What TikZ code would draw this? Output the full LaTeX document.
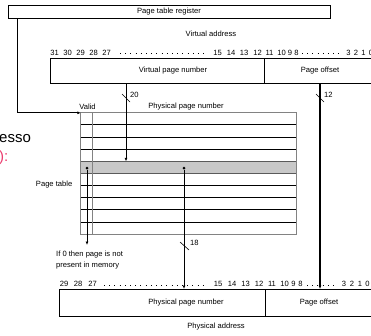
\documentclass[tikz,border=0pt]{standalone}
\usepackage{fontspec}
\setmainfont{Liberation Sans}
\usetikzlibrary{arrows.meta}
\definecolor{pinkred}{RGB}{235,60,110}
\definecolor{rowgray}{RGB}{200,200,200}
\definecolor{edgegray}{RGB}{130,130,130}
\definecolor{darkedge}{RGB}{90,90,90}
\begin{document}
\begin{tikzpicture}[x=1pt,y=-1pt,
  lbl/.style={font=\fontsize{7.6}{9}\selectfont, inner sep=0pt},
  box/.style={draw, line width=0.8pt, inner sep=0pt},
  rowbox/.style={inner sep=0pt, minimum width=215pt, minimum height=12.13pt},
  arr/.style={-{Latex[length=3.5pt,width=3pt]}, line width=0.9pt},
  wire/.style={line width=0.9pt},
  hashmark/.style={line width=0.6pt},
  bitdots/.style={line width=0.9pt, dash pattern=on 0.9pt off 4.3pt},
  dotmark/.style={fill=black, circle, inner sep=0pt, minimum size=3pt}]
\useasboundingbox (0,0) rectangle (371,335);

% page table register
\node[box, minimum width=322pt, minimum height=13pt] (ptr) at (169,11.5) {};
\node[lbl] (ptrt) at (169,12) {Page table register};

% virtual address
\node[lbl] (vat) at (211,34) {Virtual address};
\foreach \x/\t [count=\i] in {54.5/31,67.5/30,80.5/29,93.5/28,106.5/27,217.5/15,231/14,244/13,257.5/12,269.5/11,281.5/10,290/9,296.5/8,348.5/3,356/2,363.5/1,371/0}
  \node[lbl] (vb\i) at (\x,52.5) {\t};
\draw[bitdots] (120,53) -- (205,53);
\draw[bitdots] (302,53) -- (342,53);
\node[box, minimum width=214pt, minimum height=25pt] (vpn) at (157,70.5) {};
\node[box, minimum width=120pt, minimum height=25pt] (voff) at (324,70.5) {};
\node[lbl] (vpnt) at (173,71) {Virtual page number};
\node[lbl] (vofft) at (320,71) {Page offset};

% page table
\foreach \i in {0,...,9}
  \node[rowbox] (r\i) at (188.5,{113+12.13*\i+6.065}) {};
\foreach \i in {1,2,3,6,7,8,9}
  \draw[wire] (r\i.north west) -- (r\i.north east);
\node[rowbox, fill=rowgray] (sel) at (r4) {};
\draw[line width=1pt, darkedge] (sel.north west) -- (sel.north east);
\draw[line width=1pt, darkedge] (sel.south west) -- (sel.south east);
\draw[edgegray, line width=0.8pt] (r0.north west) rectangle (r9.south east);
\draw[edgegray, line width=0.8pt] (r0.north west) ++(12,0) coordinate (vc) -- (vc |- r9.south);
\node[lbl] (validt) at (87.5,107) {Valid};
\node[lbl] (ppnt) at (186,107) {Physical page number};
\node[lbl, anchor=east] (ptt) at (72.5,185) {Page table};

% register to table
\coordinate (regdown) at (17,18);
\draw[arr] (regdown) |- (r0.north west);

% VPN to table
\coordinate (vpnsrc) at (126,83);
\draw[arr] (vpnsrc) -- (vpnsrc |- sel.north);
\draw[hashmark] (122,94) -- (130,102);
\node[lbl, anchor=west] (n20) at (130,95) {20};

% page offset straight through
\coordinate (offsrc) at (320,83);
\coordinate (offdst) at (320,289);
\draw[-{Latex[length=3.5pt,width=3pt]}, line width=1.6pt] (offsrc) -- (offdst);
\draw[hashmark] (316,94) -- (324,102);
\node[lbl, anchor=west] (n12) at (324,95) {12};

% valid bit
\node[dotmark] (vd) at (87,168) {};
\coordinate (vend) at (87,245);
\draw[arr] (vd) -- (vend);
\node[lbl, anchor=west] (if1) at (56,255) {If 0 then page is not};
\node[lbl, anchor=west] (if2) at (56,266) {present in memory};

% physical page number
\node[dotmark] (pd) at (184,168) {};
\coordinate (pend) at (184,289);
\draw[arr] (pd) -- (pend);
\draw[hashmark] (180,242) -- (189,250);
\node[lbl, anchor=west] (n18) at (190,243) {18};

% physical address
\foreach \x/\t [count=\i] in {64/29,78/28,92.5/27,218/15,232/14,245.5/13,259/12,272/11,284.5/10,293.5/9,300.5/8,344/3,352/2,360/1,367.5/0}
  \node[lbl] (pb\i) at (\x,284) {\t};
\draw[bitdots] (104,285) -- (205,285);
\draw[bitdots] (307,285) -- (338,285);
\node[box, minimum width=206pt, minimum height=27pt] (ppn) at (162,302.5) {};
\node[box, minimum width=120pt, minimum height=27pt] (poff) at (325,302.5) {};
\node[lbl] (ppnbt) at (186,303) {Physical page number};
\node[lbl] (pofft) at (319,303) {Page offset};
\node[lbl] (pat) at (216,327) {Physical address};

% cropped slide text
\node[anchor=base west, inner sep=0pt, font=\fontsize{15}{17}\selectfont] (esso) at (-1,142) {esso};
\node[anchor=base west, inner sep=0pt, font=\fontsize{15}{17}\selectfont, text=pinkred] (paren) at (-1,161) {):};
\end{tikzpicture}
\end{document}
